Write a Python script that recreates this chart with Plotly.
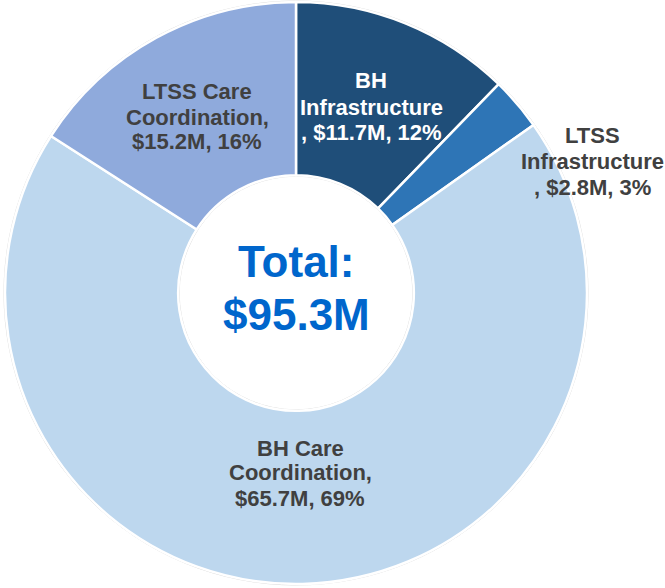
import plotly.graph_objects as go

# Data
categories = ["BH Infrastructure", "LTSS Infrastructure", "BH Care Coordination", "LTSS Care Coordination"]
values_m = [11.7, 2.8, 65.7, 15.2]
percents = [12, 3, 69, 16]
total_label = "$95.3M"
colors = ["#1F4E79", "#2E75B6", "#BDD7EE", "#8FAADC"]

W, H = 665, 588
CX, CY, R = 296, 293, 291

fig = go.Figure()
fig.add_trace(go.Pie(
    labels=categories,
    values=values_m,
    hole=0.405,
    sort=False,
    direction="clockwise",
    rotation=0,
    marker=dict(colors=colors, line=dict(color="white", width=2.5)),
    textinfo="none",
    hoverinfo="label+value+percent",
    showlegend=False,
    domain=dict(x=[(CX - R) / W, (CX + R) / W], y=[1 - (CY + R) / H, 1 - (CY - R) / H]),
))

def px(x, y):
    return x / W, 1 - y / H

# label lines: (lines, center x, first line y, spacing, color)
label_specs = [
    (["BH", "Infrastructure", f", ${values_m[0]}M, {percents[0]}%"], 371, 81, 26, "white"),
    (["LTSS", "Infrastructure", f", ${values_m[1]}M, {percents[1]}%"], 592, 135, 26, "#404040"),
    (["BH Care", "Coordination,", f"${values_m[2]}M, {percents[2]}%"], 300, 448, 25, "#404040"),
    (["LTSS Care", "Coordination,", f"${values_m[3]}M, {percents[3]}%"], 197, 92, 25, "#404040"),
]

annotations = []
for lines, cx, y0, dy, col in label_specs:
    for i, ln in enumerate(lines):
        x, y = px(cx, y0 + i * dy)
        annotations.append(dict(
            text=f"<b>{ln}</b>", x=x, y=y, xref="paper", yref="paper",
            xanchor="center", yanchor="middle", showarrow=False,
            font=dict(family="Liberation Sans, Arial, sans-serif", size=22, color=col),
        ))

for txt, yy in [("Total:", 261), (total_label, 314)]:
    x, y = px(296, yy)
    annotations.append(dict(
        text=f"<b>{txt}</b>", x=x, y=y, xref="paper", yref="paper",
        xanchor="center", yanchor="middle", showarrow=False,
        font=dict(family="Liberation Sans, Arial, sans-serif", size=44, color="#0066CC"),
    ))

# faint grey outline around the ring and the hole
shapes = []
for rr in (R + 1, R * 0.405 - 1):
    x0, y0 = px(CX - rr, CY + rr)
    x1, y1 = px(CX + rr, CY - rr)
    shapes.append(dict(type="circle", xref="paper", yref="paper",
                       x0=x0, y0=y0, x1=x1, y1=y1,
                       line=dict(color="#D9D9D9", width=1), layer="below"))

fig.update_layout(
    width=W, height=H,
    margin=dict(l=0, r=0, t=0, b=0),
    paper_bgcolor="white",
    plot_bgcolor="white",
    annotations=annotations,
    shapes=shapes,
)

fig.write_html("out.html", config={"displayModeBar": False},
               post_script="document.body.style.margin='0';document.body.style.overflow='hidden';")
